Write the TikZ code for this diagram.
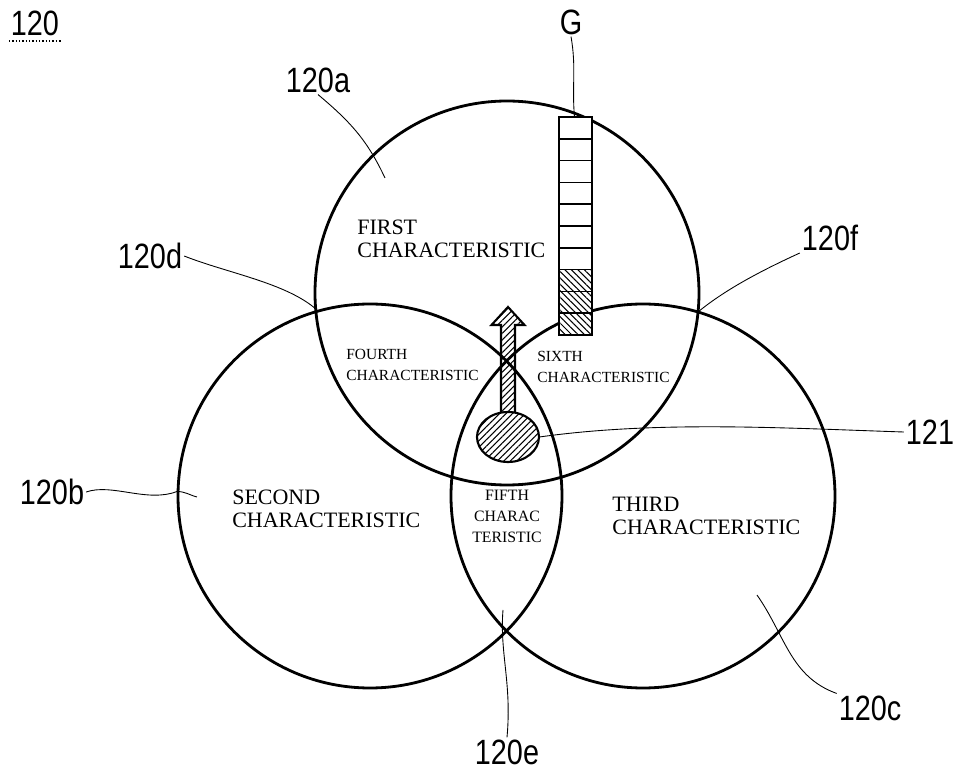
\documentclass[tikz,border=0pt]{standalone}
\usepackage{fontspec}
\setmainfont{Liberation Serif}
\newfontfamily\labelfont[FakeStretch=0.82]{Liberation Sans}
\usetikzlibrary{patterns.meta,positioning}

\begin{document}
\begin{tikzpicture}[
        ring/.style={line width=1.6pt},
        leader/.style={line width=0.5pt},
        tag/.style={font=\labelfont\fontsize{20}{24}\selectfont, inner sep=1pt},
        bigtext/.style={font=\fontsize{12.5}{13}\selectfont, align=left, anchor=west, inner sep=0pt},
        smalltext/.style={font=\fontsize{8.8}{11.5}\selectfont, align=left, anchor=west, inner sep=0pt},
        hatched/.style={line width=1.2pt, pattern={Lines[angle=45,distance=2.6pt,line width=0.6pt]}},
        cell/.style={line width=1pt, fill=white},
        shaded/.style={pattern={Lines[angle=-45,distance=2.6pt,line width=0.6pt]}}
    ]
    \useasboundingbox (-10.14,5.86) rectangle (9.14,-9.56);

    % the three characteristic circles
    \coordinate (a) at (0,0);
    \coordinate (b) at ([xshift=-2.74cm,yshift=-4.06cm]a);
    \coordinate (c) at ([xshift=2.72cm,yshift=-4.06cm]a);
    \draw[ring] (a) circle (3.84cm);
    \draw[ring] (b) circle (3.84cm);
    \draw[ring] (c) circle (3.84cm);

    % region texts
    \node[bigtext] (first) at (-3.00,1.08) {FIRST\\CHARACTERISTIC};
    \node[bigtext] (second) at (-5.50,-4.32) {SECOND\\CHARACTERISTIC};
    \node[bigtext] (third) at (2.10,-4.46) {THIRD\\CHARACTERISTIC};
    \node[smalltext] (fourth) at (-3.22,-1.44) {FOURTH\\CHARACTERISTIC};
    \node[smalltext] (sixth) at (0.60,-1.48) {SIXTH\\CHARACTERISTIC};
    \node[smalltext, anchor=center, align=center, font=\fontsize{9}{12}\selectfont] (fifth) at (0,-4.46) {FIFTH\\CHARAC\\TERISTIC};

    % gauge G
    \foreach \i in {0,...,9}
        \draw[cell] (1.04,{3.52-\i*0.436}) rectangle ++(0.66,-0.436);
    \foreach \i in {7,8,9}
        \draw[cell, shaded] (1.04,{3.52-\i*0.436}) rectangle ++(0.66,-0.436);
    \coordinate (gtop) at (1.35,3.52);

    % pointer 121
    \fill[white] (0.02,-2.88) ellipse (0.62cm and 0.5cm);
    \draw[hatched] (0.02,-2.88) ellipse (0.62cm and 0.5cm);
    \node[inner sep=0pt, minimum width=1.24cm, minimum height=1cm] (dot) at (0.02,-2.88) {};
    \draw[hatched] (-0.12,-2.39) -- (-0.12,-0.64) -- (-0.31,-0.64) -- (0.02,-0.28)
        -- (0.35,-0.64) -- (0.16,-0.64) -- (0.16,-2.39);

    % reference labels
    \node[tag] (n120) at (-9.44,5.40) {120};
    \draw[densely dotted, line width=0.9pt] ([yshift=-2pt]n120.south west) -- ([yshift=-2pt]n120.south east);
    \node[tag] (ng) at (1.28,5.42) {G};
    \node[tag] (n120a) at (-3.78,4.26) {120a};
    \node[tag] (n120d) at (-7.14,0.74) {120d};
    \node[tag] (n120f) at (6.46,1.10) {120f};
    \node[tag] (n121) at (8.46,-2.78) {121};
    \node[tag] (n120b) at (-9.10,-3.98) {120b};
    \node[tag] (n120e) at (0,-9.18) {120e};
    \node[tag] (n120c) at (7.26,-8.30) {120c};

    % leader ends
    \coordinate (p120a) at (-2.44,2.30);
    \coordinate (p120d) at (-3.80,-0.34);
    \coordinate (p120f) at (3.82,-0.38);
    \coordinate (p120b) at (-6.20,-4.08);
    \coordinate (p120e) at (-0.08,-6.34);
    \coordinate (p120c) at (5.00,-6.04);

    \draw[leader] (ng.south) to[out=-80,in=95] (gtop);
    \draw[leader] (n120a.south) to[out=-40,in=115] (p120a);
    \draw[leader] (n120d.east) .. controls (-5.6,0.4) and (-4.4,0.2) .. (p120d);
    \draw[leader] (n120f.south west) .. controls (5.2,0.5) and (4.4,0.1) .. (p120f);
    \draw[leader] (n120b.east) .. controls (-7.9,-3.8) and (-7.2,-4.2) .. (-6.6,-3.97)
        to[out=0,in=165] (p120b);
    \draw[leader] (dot.east) .. controls (3,-2.55) and (5.5,-2.7) .. (n121.west);
    \draw[leader] (n120e.north) .. controls (0.1,-7.8) and (-0.15,-7.2) .. (p120e);
    \draw[leader] (n120c.north west) to[out=160,in=-55] (p120c);
\end{tikzpicture}
\end{document}
